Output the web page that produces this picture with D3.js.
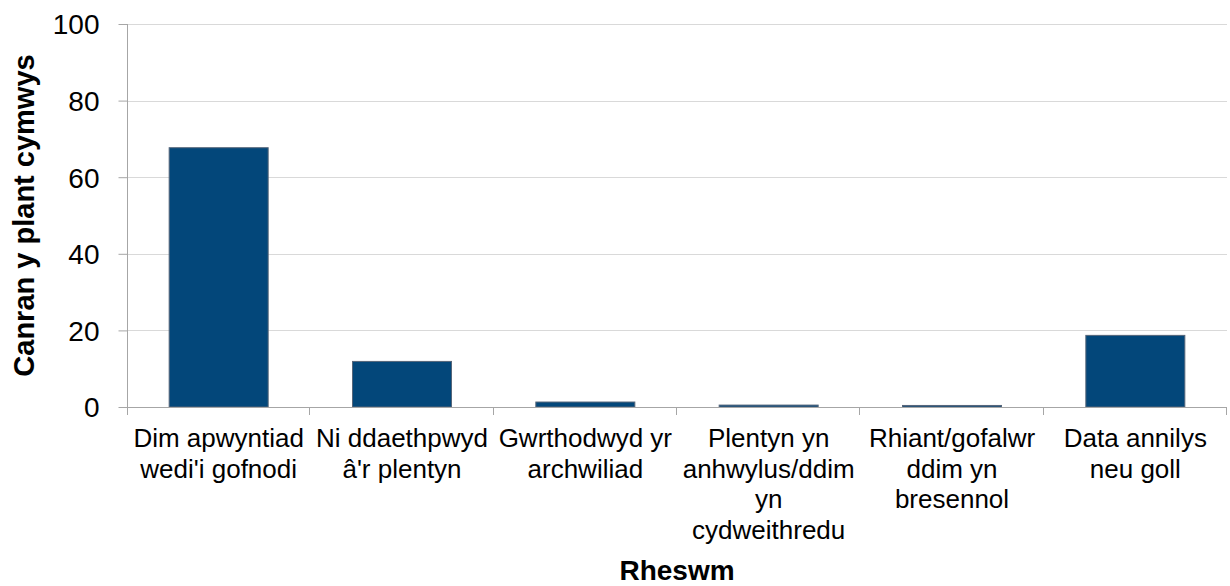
<!DOCTYPE html>
<html>
<head>
<meta charset="utf-8">
<script src="https://cdn.jsdelivr.net/npm/d3@7"></script>
<style>
  html, body { margin: 0; padding: 0; background: #fff; }
  svg { display: block; font-family: "Liberation Sans", Arial, sans-serif; }
</style>
</head>
<body>
<svg id="chart" width="1230" height="586"></svg>
<script>
// Data
const categories = [
  "Dim apwyntiad\nwedi'i gofnodi",
  "Ni ddaethpwyd\nâ'r plentyn",
  "Gwrthodwyd yr\narchwiliad",
  "Plentyn yn\nanhwylus/ddim\nyn\ncydweithredu",
  "Rhiant/gofalwr\nddim yn\nbresennol",
  "Data annilys\nneu goll"
];
const values = [67.7, 11.9, 1.3, 0.5, 0.4, 18.7];
const yTicks = [0, 20, 40, 60, 80, 100];
const yTitle = "Canran y plant cymwys";
const xTitle = "Rheswm";

(function () {
const svg = d3.select("#chart");
const mLeft = 127, mRight = 1227, mTop = 24, mBottom = 407;

const x = d3.scaleBand().domain(categories).range([mLeft, mRight])
  .paddingInner(0.46).paddingOuter(0.23);
const y = d3.scaleLinear().domain([0, 100]).range([mBottom, mTop]);

// gridlines
svg.append("g").selectAll("line").data(yTicks.filter(d => d > 0)).join("line")
  .attr("x1", mLeft).attr("x2", mRight)
  .attr("y1", d => Math.round(y(d)) + 0.5).attr("y2", d => Math.round(y(d)) + 0.5)
  .attr("stroke", "#d9d9d9").attr("stroke-width", 1);

// bars
svg.append("g").selectAll("rect").data(values).join("rect")
  .attr("x", (d, i) => x(categories[i]))
  .attr("width", x.bandwidth())
  .attr("y", d => y(d))
  .attr("height", d => y(0) - y(d))
  .attr("fill", "#03477a")
  .attr("stroke", "#56667a")
  .attr("stroke-width", 1);

// y axis
const yAxis = svg.append("g").attr("transform", `translate(${mLeft + 0.5},0)`)
  .call(d3.axisLeft(y).tickValues(yTicks).tickSize(9).tickPadding(19).tickFormat(d3.format("d")));
yAxis.select(".domain").attr("stroke", "#a6a6a6").attr("d", `M0,${mTop}V${mBottom + 8}`);
yAxis.selectAll(".tick line").attr("stroke", "#a6a6a6");
yAxis.selectAll(".tick text").attr("font-size", 28).attr("fill", "#000")
  .attr("font-family", "Liberation Sans, Arial, sans-serif").attr("dy", "0.35em");

// x axis line
const xAxisG = svg.append("g");
xAxisG.append("line").attr("x1", mLeft).attr("x2", mRight)
  .attr("y1", Math.round(y(0)) + 0.5).attr("y2", Math.round(y(0)) + 0.5)
  .attr("stroke", "#a6a6a6");
const bounds = categories.map((c, i) => x(c) - x.step() * x.paddingInner() / 2).concat([mRight]);
xAxisG.selectAll("line.tk").data(bounds.slice(1)).join("line").attr("class", "tk")
  .attr("x1", d => Math.round(d) - 0.5).attr("x2", d => Math.round(d) - 0.5)
  .attr("y1", y(0)).attr("y2", y(0) + 8)
  .attr("stroke", "#a6a6a6");

// category labels
const lab = svg.append("g").selectAll("text").data(categories).join("text")
  .attr("text-anchor", "middle")
  .attr("font-size", 26)
  .attr("fill", "#000")
  .attr("transform", d => `translate(${x(d) + x.bandwidth() / 2},447)`);
lab.selectAll("tspan").data(d => d.split("\n")).join("tspan")
  .attr("x", 0).attr("y", (d, i) => i * 30.7).text(d => d);

// axis titles
svg.append("text").attr("transform", `translate(34,${(mTop + mBottom) / 2}) rotate(-90)`)
  .attr("text-anchor", "middle").attr("font-size", 29).attr("font-weight", "bold")
  .attr("fill", "#000").text(yTitle);
svg.append("text").attr("x", (mLeft + mRight) / 2).attr("y", 580)
  .attr("text-anchor", "middle").attr("font-size", 28).attr("font-weight", "bold")
  .attr("fill", "#000").text(xTitle);
})();
</script>
</body>
</html>
